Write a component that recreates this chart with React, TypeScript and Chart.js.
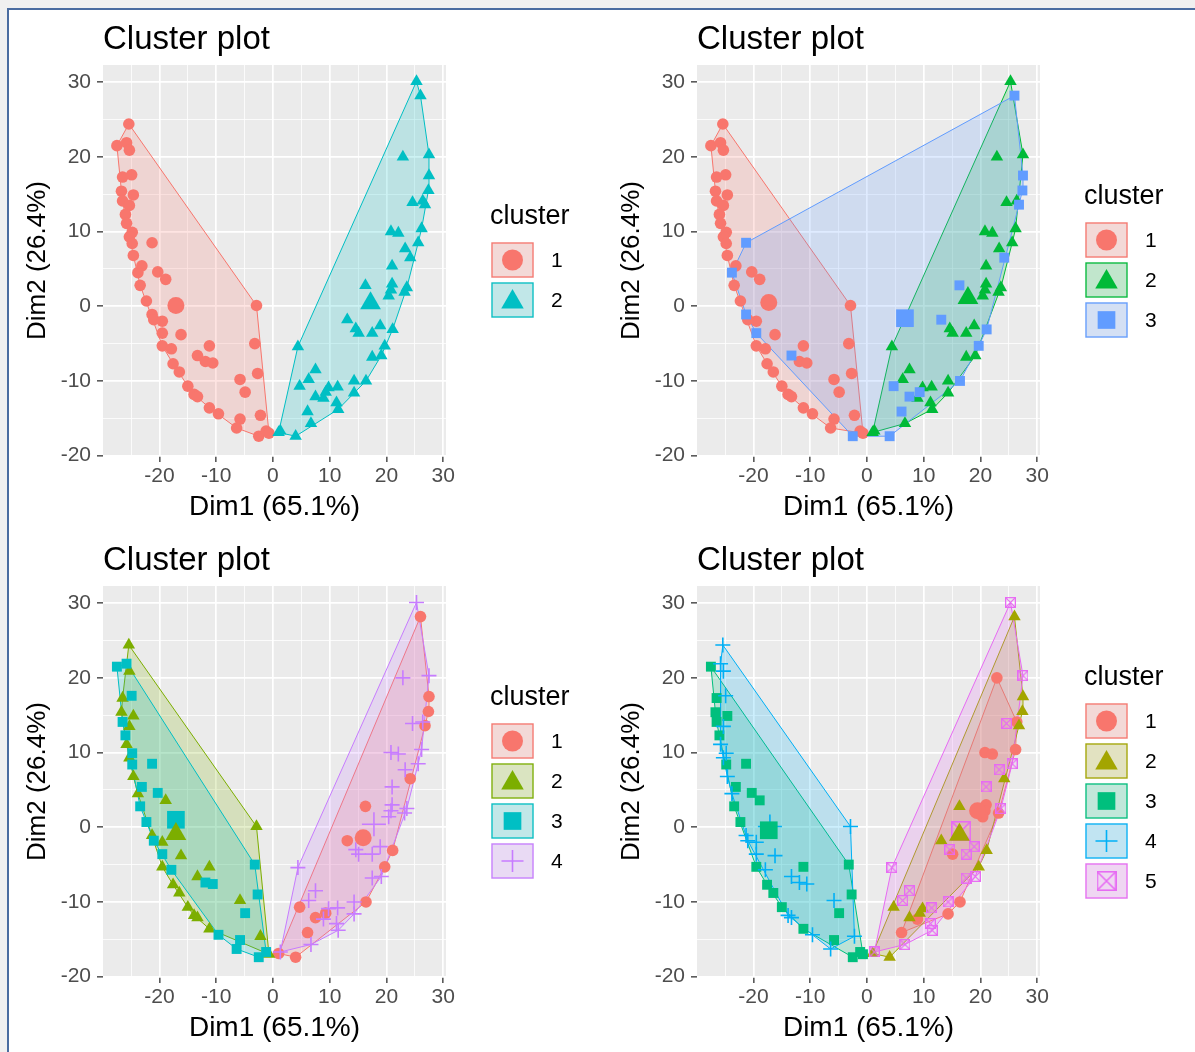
import React, { useEffect, useRef } from 'react';
import { Chart, registerables, PointElement } from 'chart.js';

Chart.register(...registerables);

const FONT = '"Liberation Sans", Arial, Helvetica, sans-serif';
Chart.defaults.font.family = FONT;

// ---- Observations projected on the first two dimensions (read from the picture) ----
// 52 points of the left arm, then 50 points of the right arm
const dim1 = [
  -25.4, -27.5, -25.8, -25.3, -26.5, -24.9, -26.7, -24.6, -26.5, -25.3,
  -26.0, -25.8, -24.8, -25.3, -24.8, -21.3, -24.6, -23.1, -23.8, -20.3,
  -18.9, -23.4, -22.3, -2.9, -21.3, -21.0, -19.5, -19.5, -16.2, -19.5,
  -17.9, -11.2, -3.2, -13.3, -11.9, -10.6, -17.6, -16.5, -5.8, -2.7,
  -4.9, -15.0, -13.9, -13.3, -11.2, -9.6, -5.8, -2.2, -6.4, -2.5,
  -1.2, -0.7,
  25.3, 26.0, 27.5, 22.9, 27.5, 27.4, 24.6, 26.4, 26.8, 26.2,
  20.8, 22.1, 25.6, 23.3, 24.2, 21.0, 16.3, 21.0, 20.8, 20.4,
  23.6, 23.2, 13.1, 14.6, 15.1, 17.5, 18.9, 21.1, 19.7, 17.5,
  19.1, 4.4, 7.5, 4.7, 6.3, 7.5, 9.3, 9.8, 11.4, 8.9,
  14.3, 16.4, 14.3, 11.2, 11.5, 6.1, 6.7, 1.3, 4.0, 1.0,
];
const dim2 = [
  24.4, 21.5, 21.9, 20.9, 17.3, 17.6, 15.4, 14.9, 14.1, 13.5,
  12.3, 11.1, 9.9, 9.3, 8.4, 8.5, 6.8, 5.4, 4.5, 4.6,
  3.6, 2.8, 0.7, 0.1, -1.1, -1.8, -2.0, -3.6, -3.8, -5.3,
  -5.7, -5.3, -5.0, -6.6, -7.4, -7.6, -7.7, -8.8, -9.8, -9.0,
  -11.5, -10.7, -11.8, -12.1, -13.6, -14.4, -15.1, -14.6, -16.3, -17.4,
  -16.7, -17.0,
  30.1, 28.2, 20.3, 20.0, 17.5, 15.5, 13.9, 14.1, 13.6, 10.4,
  10.0, 9.8, 8.5, 7.7, 6.5, 5.4, 2.8, 3.0, 2.2, 1.4,
  2.5, 1.9, -1.8, -3.0, -3.6, -3.6, -2.6, -3.1, -5.3, -6.8,
  -6.6, -5.4, -8.5, -10.7, -9.8, -12.1, -11.5, -10.9, -10.8, -12.3,
  -10.0, -10.0, -11.6, -12.9, -13.8, -14.1, -15.7, -16.7, -17.4, -16.9,
];

// ---- Cluster memberships for k = 2, 3, 4, 5 ----
const clusterK2 = [
  1, 1, 1, 1, 1, 1, 1, 1, 1, 1, 1, 1, 1, 1, 1, 1, 1, 1, 1, 1,
  1, 1, 1, 1, 1, 1, 1, 1, 1, 1, 1, 1, 1, 1, 1, 1, 1, 1, 1, 1,
  1, 1, 1, 1, 1, 1, 1, 1, 1, 1, 1, 1,
  2, 2, 2, 2, 2, 2, 2, 2, 2, 2, 2, 2, 2, 2, 2, 2, 2, 2, 2, 2,
  2, 2, 2, 2, 2, 2, 2, 2, 2, 2, 2, 2, 2, 2, 2, 2, 2, 2, 2, 2,
  2, 2, 2, 2, 2, 2, 2, 2, 2, 2,
];
const clusterK3 = [
  1, 1, 1, 1, 1, 1, 1, 1, 1, 1,
  1, 1, 1, 1, 1, 3, 1, 1, 3, 1,
  1, 1, 1, 1, 3, 1, 1, 3, 1, 1,
  1, 1, 1, 3, 1, 1, 1, 1, 1, 1,
  1, 1, 1, 1, 1, 1, 1, 1, 1, 3,
  1, 1,
  2, 3, 2, 2, 3, 3, 2, 2, 3, 2,
  2, 2, 2, 2, 3, 2, 3, 2, 2, 2,
  2, 2, 3, 2, 2, 2, 2, 3, 3, 2,
  2, 2, 2, 3, 2, 3, 3, 2, 2, 2,
  2, 3, 2, 2, 2, 3, 2, 2, 3, 2,
];
const clusterK4 = [
  2, 3, 3, 2, 2, 3, 2, 2, 3, 2,
  3, 2, 3, 2, 3, 3, 2, 3, 2, 3,
  2, 3, 3, 2, 2, 3, 2, 3, 2, 2,
  3, 2, 3, 2, 3, 3, 2, 2, 2, 3,
  3, 2, 2, 2, 2, 3, 3, 2, 3, 3,
  3, 2,
  4, 1, 4, 4, 1, 1, 4, 4, 1, 4,
  4, 4, 4, 4, 1, 4, 1, 4, 4, 4,
  4, 4, 1, 4, 4, 4, 4, 1, 1, 4,
  4, 4, 4, 1, 4, 1, 1, 4, 4, 4,
  4, 1, 4, 4, 4, 1, 4, 4, 1, 1,
];
const clusterK5 = [
  4, 3, 4, 4, 3, 4, 3, 3, 3, 4,
  3, 4, 4, 4, 3, 3, 4, 3, 4, 3,
  3, 3, 3, 4, 4, 4, 4, 4, 4, 3,
  4, 3, 3, 4, 4, 4, 3, 3, 4, 3,
  3, 3, 4, 4, 3, 4, 3, 4, 4, 3,
  3, 3,
  5, 2, 5, 1, 2, 2, 5, 1, 2, 1,
  1, 1, 5, 5, 2, 5, 2, 1, 1, 1,
  5, 1, 2, 5, 1, 5, 5, 2, 2, 5,
  5, 5, 5, 2, 5, 2, 2, 2, 5, 1,
  5, 1, 1, 5, 5, 1, 5, 5, 2, 2,
];

// ---- Cluster centres (large markers) ----
const centerK2X = [-17.1, 17.2];
const centerK2Y = [0.1, 0.4];
const centerK3X = [-17.3, 17.8, 6.7];
const centerK3Y = [0.5, 1.1, -1.6];
const centerK4X = [15.9, -17.1, -17.1, 17.8];
const centerK4Y = [-1.4, -0.9, 1.0, 0.4];
const centerK5X = [19.5, 16.3, -17.3, -17.1, 16.6];
const centerK5Y = [2.2, -1.0, -0.4, 0.1, -0.5];

const colorsK2 = ['#F8766D', '#00BFC4'];
const colorsK3 = ['#F8766D', '#00BA38', '#619CFF'];
const colorsK4 = ['#F8766D', '#7CAE00', '#00BFC4', '#C77CFF'];
const colorsK5 = ['#F8766D', '#A3A500', '#00BF7D', '#00B0F6', '#E76BF3'];

const xTickValues = [-25, -20, -15, -10, -5, 0, 5, 10, 15, 20, 25, 30];
const yTickValues = [-20, -15, -10, -5, 0, 5, 10, 15, 20, 25, 30];

const PLOT_TITLE = 'Cluster plot';
const X_TITLE = 'Dim1 (65.1%)';
const Y_TITLE = 'Dim2 (26.4%)';
const LEGEND_TITLE = 'cluster';

// ---- helpers ----
function rgba(hex: string, a: number) {
  const n = parseInt(hex.slice(1), 16);
  return `rgba(${(n >> 16) & 255},${(n >> 8) & 255},${n & 255},${a})`;
}

function makeSquareCross(color: string, size: number, lw: number) {
  const c = document.createElement('canvas');
  c.width = size;
  c.height = size;
  const g = c.getContext('2d')!;
  g.strokeStyle = color;
  g.lineWidth = lw;
  const a = lw / 2;
  const b = size - lw / 2;
  g.strokeRect(a, a, b - a, b - a);
  g.beginPath();
  g.moveTo(a, a);
  g.lineTo(b, b);
  g.moveTo(b, a);
  g.lineTo(a, b);
  g.stroke();
  return c;
}

const SHAPES = ['circle', 'triangle', 'rect', 'cross', 'sqx'];
const SIZES: Record<string, number[]> = {
  point: [5.8, 7.2, 7, 7.5, 11],
  center: [8.5, 12, 12.5, 12, 20],
  key: [10.5, 13, 12.5, 11, 20],
};

function styleFor(c: number, kind: string, color: string) {
  const shape = SHAPES[c];
  const s = SIZES[kind][c];
  if (shape === 'sqx') {
    return { pointStyle: makeSquareCross(color, Math.round(s), kind === 'point' ? 1.3 : 1.6), radius: s / 2, borderWidth: 0 };
  }
  if (shape === 'cross') {
    return { pointStyle: 'cross', radius: s, borderWidth: 1.6 };
  }
  return { pointStyle: shape, radius: s, borderWidth: 0 };
}

function convexHull(pts: { x: number; y: number }[]) {
  const p = pts.slice().sort((a, b) => (a.x === b.x ? a.y - b.y : a.x - b.x));
  if (p.length < 3) return p;
  const cross = (o: any, a: any, b: any) => (a.x - o.x) * (b.y - o.y) - (a.y - o.y) * (b.x - o.x);
  const lower: any[] = [];
  for (const q of p) {
    while (lower.length >= 2 && cross(lower[lower.length - 2], lower[lower.length - 1], q) <= 0) lower.pop();
    lower.push(q);
  }
  const upper: any[] = [];
  for (let i = p.length - 1; i >= 0; i--) {
    const q = p[i];
    while (upper.length >= 2 && cross(upper[upper.length - 2], upper[upper.length - 1], q) <= 0) upper.pop();
    upper.push(q);
  }
  upper.pop();
  lower.pop();
  return lower.concat(upper);
}

const panelBgPlugin = {
  id: 'panelBg',
  beforeDraw(chart: any) {
    const { ctx, chartArea: a } = chart;
    ctx.save();
    ctx.fillStyle = '#EBEBEB';
    ctx.fillRect(a.left, a.top, a.right - a.left, a.bottom - a.top);
    ctx.restore();
  },
};

const hullFillPlugin = {
  id: 'hullFill',
  beforeDatasetDraw(chart: any, args: any) {
    const ds: any = chart.data.datasets[args.index];
    if (!ds.hullFill) return;
    const pts = args.meta.data;
    if (!pts.length) return;
    const ctx = chart.ctx;
    const a = chart.chartArea;
    ctx.save();
    ctx.beginPath();
    ctx.rect(a.left, a.top, a.right - a.left, a.bottom - a.top);
    ctx.clip();
    ctx.beginPath();
    pts.forEach((pt: any, i: number) => (i ? ctx.lineTo(pt.x, pt.y) : ctx.moveTo(pt.x, pt.y)));
    ctx.closePath();
    ctx.fillStyle = ds.hullFill;
    ctx.fill();
    ctx.restore();
  },
};

function makeLegendPlugin(colors: string[]) {
  return {
    id: 'ggLegend',
    afterDraw(chart: any) {
      const ctx = chart.ctx;
      const n = colors.length;
      const a = chart.chartArea;
      const cy = (a.top + a.bottom) / 2;
      const blockTop = cy - (33 + 40 * n) / 2 + 1;
      const titleY = blockTop + 12;
      const box0 = titleY + 25;
      const boxX = 491;
      const boxW = 43;
      const boxH = 36;
      ctx.save();
      ctx.textAlign = 'left';
      ctx.textBaseline = 'middle';
      ctx.fillStyle = '#000000';
      ctx.font = `27px ${FONT}`;
      ctx.fillText(LEGEND_TITLE, 490, titleY);
      colors.forEach((col, c) => {
        const top = box0 + c * 40;
        ctx.fillStyle = '#F2F2F2';
        ctx.fillRect(boxX, top, boxW, boxH);
        ctx.fillStyle = rgba(col, 0.2);
        ctx.fillRect(boxX + 1, top + 1, boxW - 2, boxH - 2);
        ctx.strokeStyle = col;
        ctx.lineWidth = 1.3;
        ctx.strokeRect(boxX + 1, top + 1, boxW - 2, boxH - 2);
        const st = styleFor(c, 'key', col);
        const pe: any = new PointElement({});
        pe.x = boxX + boxW / 2;
        pe.y = top + boxH / 2 + (SHAPES[c] === 'triangle' ? 2 : 0);
        pe.options = {
          pointStyle: st.pointStyle,
          radius: st.radius,
          rotation: 0,
          backgroundColor: col,
          borderColor: col,
          borderWidth: st.borderWidth,
        };
        pe.draw(ctx, { left: 0, top: 0, right: chart.width, bottom: chart.height });
        ctx.fillStyle = '#000000';
        ctx.font = `21px ${FONT}`;
        ctx.textAlign = 'left';
        ctx.textBaseline = 'middle';
        ctx.fillText(String(c + 1), 551, top + boxH / 2 + 1);
      });
      ctx.restore();
    },
  };
}

const isMajor = (ctx: any) => ctx.tick && Math.abs(ctx.tick.value % 10) < 1e-9;

function ClusterPanel(props: {
  left: number;
  top: number;
  assign: number[];
  cx: number[];
  cy: number[];
  colors: string[];
}) {
  const ref = useRef<HTMLCanvasElement>(null);
  useEffect(() => {
    const { assign, cx, cy, colors } = props;
    const k = colors.length;
    const groups = colors.map((_, c) => {
      const g: { x: number; y: number }[] = [];
      dim1.forEach((x, i) => {
        if (assign[i] === c + 1) g.push({ x, y: dim2[i] });
      });
      return g;
    });
    const datasets: any[] = [];
    for (let c = 0; c < k; c++) {
      const st = styleFor(c, 'center', colors[c]);
      datasets.push({
        label: `centre ${c + 1}`,
        data: [{ x: cx[c], y: cy[c] }],
        pointStyle: st.pointStyle,
        pointRadius: st.radius,
        pointBackgroundColor: colors[c],
        pointBorderColor: colors[c],
        pointBorderWidth: st.borderWidth,
        backgroundColor: colors[c],
        borderColor: colors[c],
      });
    }
    for (let c = k - 1; c >= 0; c--) {
      const st = styleFor(c, 'point', colors[c]);
      datasets.push({
        label: `cluster ${c + 1}`,
        data: groups[c],
        pointStyle: st.pointStyle,
        pointRadius: st.radius,
        pointBackgroundColor: colors[c],
        pointBorderColor: colors[c],
        pointBorderWidth: st.borderWidth,
        backgroundColor: colors[c],
        borderColor: colors[c],
      });
    }
    for (let c = k - 1; c >= 0; c--) {
      const h = convexHull(groups[c]);
      datasets.push({
        label: `hull ${c + 1}`,
        data: h.length ? [...h, h[0]] : [],
        showLine: true,
        fill: false,
        tension: 0,
        pointRadius: 0,
        pointHoverRadius: 0,
        pointHitRadius: 0,
        borderColor: colors[c],
        borderWidth: 1,
        backgroundColor: rgba(colors[c], 0.2),
        hullFill: rgba(colors[c], 0.2),
      });
    }

    const tickFont = { size: 21, family: FONT };
    const gridCfg = {
      color: '#FFFFFF',
      lineWidth: (ctx: any) => (isMajor(ctx) ? 1.7 : 0.8),
      drawTicks: true,
      tickLength: 6,
      tickWidth: 1.3,
      tickColor: (ctx: any) => (isMajor(ctx) ? '#333333' : 'rgba(0,0,0,0)'),
    };
    const chart = new Chart(ref.current!, {
      type: 'scatter',
      data: { datasets },
      plugins: [panelBgPlugin, hullFillPlugin, makeLegendPlugin(colors)],
      options: {
        responsive: false,
        animation: false,
        devicePixelRatio: 1,
        events: [],
        layout: { padding: { left: 0, right: 151, top: 0, bottom: 0 } },
        plugins: {
          legend: { display: false },
          tooltip: { enabled: false },
          title: {
            display: true,
            text: PLOT_TITLE,
            align: 'start',
            fullSize: false,
            color: '#000000',
            font: { size: 33, family: FONT, weight: 'normal', lineHeight: 1 },
            padding: { top: 23, bottom: 9 },
          },
        },
        scales: {
          x: {
            type: 'linear',
            min: -29.95,
            max: 30.5,
            afterBuildTicks: (scale: any) => {
              scale.ticks = xTickValues.map((v) => ({ value: v }));
            },
            afterFit: (scale: any) => {
              scale.height = 65;
            },
            grid: gridCfg as any,
            border: { display: false },
            ticks: {
              autoSkip: false,
              maxRotation: 0,
              minRotation: 0,
              padding: 2,
              color: '#4D4D4D',
              font: tickFont,
              callback: (v: any) => (Math.abs(Number(v) % 10) < 1e-9 ? String(v) : ''),
            },
            title: {
              display: true,
              text: X_TITLE,
              color: '#000000',
              font: { size: 28, family: FONT, lineHeight: 1 },
              padding: { top: 0, bottom: 0 },
            },
          },
          y: {
            type: 'linear',
            min: -20.05,
            max: 32.3,
            afterBuildTicks: (scale: any) => {
              scale.ticks = yTickValues.map((v) => ({ value: v }));
            },
            afterFit: (scale: any) => {
              scale.width = 103;
            },
            grid: gridCfg as any,
            border: { display: false },
            ticks: {
              autoSkip: false,
              padding: 6,
              color: '#4D4D4D',
              font: tickFont,
              callback: (v: any) => (Math.abs(Number(v) % 10) < 1e-9 ? String(v) : ''),
            },
            title: {
              display: true,
              text: Y_TITLE,
              color: '#000000',
              font: { size: 26, family: FONT, lineHeight: 1 },
              padding: { top: 25, bottom: 0 },
            },
          },
        },
      } as any,
    });
    return () => chart.destroy();
  }, []);
  return (
    <canvas
      ref={ref}
      width={597}
      height={521}
      style={{ position: 'absolute', left: props.left, top: props.top, width: 597, height: 521 }}
    />
  );
}

export default function App() {
  return (
    <div
      style={{
        position: 'fixed',
        left: 0,
        top: 0,
        width: 1195,
        height: 1052,
        background: '#F0F0F0',
        overflow: 'hidden',
      }}
    >
      <div
        style={{
          position: 'absolute',
          left: 7,
          top: 8,
          right: 0,
          bottom: 0,
          background: '#FFFFFF',
          borderLeft: '2px solid #4A6CA0',
          borderTop: '2px solid #4A6CA0',
        }}
      />
      <ClusterPanel left={0} top={0} assign={clusterK2} cx={centerK2X} cy={centerK2Y} colors={colorsK2} />
      <ClusterPanel left={594} top={0} assign={clusterK3} cx={centerK3X} cy={centerK3Y} colors={colorsK3} />
      <ClusterPanel left={0} top={521} assign={clusterK4} cx={centerK4X} cy={centerK4Y} colors={colorsK4} />
      <ClusterPanel left={594} top={521} assign={clusterK5} cx={centerK5X} cy={centerK5Y} colors={colorsK5} />
    </div>
  );
}
